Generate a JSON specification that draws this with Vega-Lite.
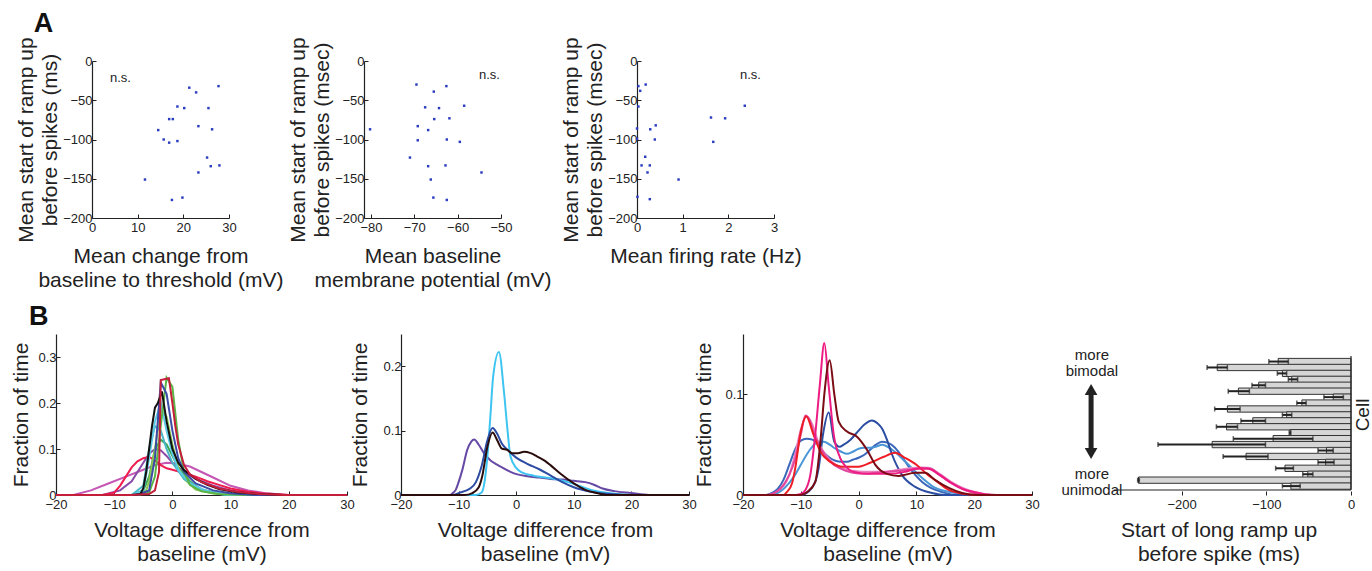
{
"$schema":"https://vega.github.io/schema/vega-lite/v6.json",
"background":"white",
"padding":{"left":10,"top":9,"right":0,"bottom":5},
"spacing":13,
"config":{
 "font":"Liberation Sans",
 "view":{"stroke":null},
 "axis":{"grid":false,"domainColor":"#222","domainWidth":1.2,"tickColor":"#222","tickSize":-4,"labelFontSize":13,"labelColor":"#222","labelPadding":4,"labelOverlap":false,"labelFlush":false,"titleFontSize":21,"titleFontWeight":"normal","titleColor":"#222","titleLineHeight":24},
 "axisX":{"labelPadding":7},
 "title":{"fontSize":27,"fontWeight":"bold","anchor":"start","color":"#111"}
},
"datasets":{
"s1":[{"x":21.3,"y":-34},{"x":22.8,"y":-40},{"x":27.7,"y":-32},{"x":18.7,"y":-58},{"x":20.2,"y":-60},{"x":25.5,"y":-60},{"x":16.9,"y":-74},{"x":17.7,"y":-74},{"x":23.3,"y":-83},{"x":14.5,"y":-88},{"x":26.3,"y":-87},{"x":15.7,"y":-100},{"x":16.9,"y":-104},{"x":18.7,"y":-102},{"x":25.2,"y":-123},{"x":26.0,"y":-134},{"x":27.9,"y":-133},{"x":23.3,"y":-142},{"x":11.6,"y":-151},{"x":17.5,"y":-177},{"x":19.8,"y":-174}],
"s2":[{"x":-69.5,"y":-30},{"x":-62.6,"y":-32},{"x":-65.5,"y":-39},{"x":-67.5,"y":-59},{"x":-64.3,"y":-60},{"x":-58.5,"y":-57},{"x":-65.4,"y":-74},{"x":-61.9,"y":-73},{"x":-80.2,"y":-87},{"x":-69.2,"y":-83},{"x":-66.8,"y":-88},{"x":-69.2,"y":-101},{"x":-62.5,"y":-100},{"x":-59.5,"y":-103},{"x":-71.0,"y":-123},{"x":-66.8,"y":-134},{"x":-62.8,"y":-133},{"x":-54.5,"y":-142},{"x":-66.2,"y":-151},{"x":-65.6,"y":-174},{"x":-62.5,"y":-177}],
"s3":[{"x":0.03,"y":-32},{"x":0.19,"y":-30},{"x":0.07,"y":-38},{"x":0.03,"y":-58},{"x":0.0,"y":-86},{"x":0.29,"y":-87},{"x":0.41,"y":-82},{"x":0.0,"y":-99},{"x":0.39,"y":-100},{"x":1.62,"y":-72},{"x":1.93,"y":-73},{"x":2.36,"y":-57},{"x":1.67,"y":-103},{"x":0.18,"y":-122},{"x":0.1,"y":-133},{"x":0.28,"y":-133},{"x":0.23,"y":-142},{"x":0.91,"y":-151},{"x":0.01,"y":-173},{"x":0.28,"y":-176}],
"b1":[
{"c":"mg","x":-20,"y":0},{"c":"mg","x":-17,"y":0},{"c":"mg","x":-14,"y":0.01},{"c":"mg","x":-11,"y":0.025},{"c":"mg","x":-8,"y":0.04},{"c":"mg","x":-5,"y":0.055},{"c":"mg","x":-3,"y":0.065},{"c":"mg","x":-1,"y":0.07},{"c":"mg","x":1,"y":0.068},{"c":"mg","x":3,"y":0.062},{"c":"mg","x":5,"y":0.05},{"c":"mg","x":7,"y":0.038},{"c":"mg","x":10,"y":0.02},{"c":"mg","x":13,"y":0.01},{"c":"mg","x":16,"y":0.004},{"c":"mg","x":20,"y":0},{"c":"mg","x":30,"y":0},
{"c":"pu","x":-20,"y":0},{"c":"pu","x":-12,"y":0},{"c":"pu","x":-9,"y":0.01},{"c":"pu","x":-7,"y":0.03},{"c":"pu","x":-5,"y":0.07},{"c":"pu","x":-4,"y":0.09},{"c":"pu","x":-3,"y":0.1},{"c":"pu","x":-2,"y":0.097},{"c":"pu","x":-1,"y":0.085},{"c":"pu","x":0,"y":0.07},{"c":"pu","x":2,"y":0.05},{"c":"pu","x":4,"y":0.035},{"c":"pu","x":7,"y":0.02},{"c":"pu","x":10,"y":0.01},{"c":"pu","x":14,"y":0.003},{"c":"pu","x":18,"y":0},{"c":"pu","x":30,"y":0},
{"c":"rd","x":-20,"y":0},{"c":"rd","x":-12,"y":0},{"c":"rd","x":-10,"y":0.005},{"c":"rd","x":-9,"y":0.02},{"c":"rd","x":-8,"y":0.04},{"c":"rd","x":-7,"y":0.06},{"c":"rd","x":-6,"y":0.073},{"c":"rd","x":-5,"y":0.08},{"c":"rd","x":-4,"y":0.083},{"c":"rd","x":-3,"y":0.075},{"c":"rd","x":-2,"y":0.065},{"c":"rd","x":-1,"y":0.058},{"c":"rd","x":0,"y":0.055},{"c":"rd","x":2,"y":0.048},{"c":"rd","x":4,"y":0.04},{"c":"rd","x":6,"y":0.03},{"c":"rd","x":8,"y":0.022},{"c":"rd","x":10,"y":0.014},{"c":"rd","x":13,"y":0.007},{"c":"rd","x":16,"y":0.003},{"c":"rd","x":20,"y":0},{"c":"rd","x":30,"y":0},
{"c":"g3","x":-20,"y":0},{"c":"g3","x":-7,"y":0},{"c":"g3","x":-5,"y":0.01},{"c":"g3","x":-4,"y":0.04},{"c":"g3","x":-3,"y":0.1},{"c":"g3","x":-2,"y":0.12},{"c":"g3","x":-1,"y":0.11},{"c":"g3","x":0,"y":0.085},{"c":"g3","x":1,"y":0.06},{"c":"g3","x":3,"y":0.03},{"c":"g3","x":5,"y":0.012},{"c":"g3","x":8,"y":0.003},{"c":"g3","x":11,"y":0},{"c":"g3","x":30,"y":0},
{"c":"g2","x":-20,"y":0},{"c":"g2","x":-6,"y":0},{"c":"g2","x":-4.5,"y":0.01},{"c":"g2","x":-4,"y":0.03},{"c":"g2","x":-3,"y":0.1},{"c":"g2","x":-2,"y":0.185},{"c":"g2","x":-1,"y":0.17},{"c":"g2","x":0,"y":0.11},{"c":"g2","x":1,"y":0.06},{"c":"g2","x":2,"y":0.035},{"c":"g2","x":4,"y":0.012},{"c":"g2","x":7,"y":0.003},{"c":"g2","x":10,"y":0},{"c":"g2","x":30,"y":0},
{"c":"tl","x":-20,"y":0},{"c":"tl","x":-7,"y":0},{"c":"tl","x":-5,"y":0.02},{"c":"tl","x":-4,"y":0.1},{"c":"tl","x":-3,"y":0.15},{"c":"tl","x":-2,"y":0.14},{"c":"tl","x":-1,"y":0.1},{"c":"tl","x":0,"y":0.07},{"c":"tl","x":2,"y":0.035},{"c":"tl","x":5,"y":0.012},{"c":"tl","x":9,"y":0},{"c":"tl","x":30,"y":0},
{"c":"cy","x":-20,"y":0},{"c":"cy","x":-7,"y":0},{"c":"cy","x":-5,"y":0.01},{"c":"cy","x":-4,"y":0.08},{"c":"cy","x":-3,"y":0.16},{"c":"cy","x":-2,"y":0.2},{"c":"cy","x":-1,"y":0.14},{"c":"cy","x":0,"y":0.09},{"c":"cy","x":1,"y":0.055},{"c":"cy","x":3,"y":0.025},{"c":"cy","x":6,"y":0.008},{"c":"cy","x":10,"y":0},{"c":"cy","x":30,"y":0},
{"c":"g1","x":-20,"y":0},{"c":"g1","x":-6,"y":0},{"c":"g1","x":-4,"y":0.005},{"c":"g1","x":-3,"y":0.04},{"c":"g1","x":-2,"y":0.15},{"c":"g1","x":-1,"y":0.255},{"c":"g1","x":0,"y":0.235},{"c":"g1","x":1,"y":0.12},{"c":"g1","x":2,"y":0.05},{"c":"g1","x":3,"y":0.022},{"c":"g1","x":5,"y":0.008},{"c":"g1","x":8,"y":0.002},{"c":"g1","x":12,"y":0},{"c":"g1","x":30,"y":0},
{"c":"bl","x":-20,"y":0},{"c":"bl","x":-6,"y":0},{"c":"bl","x":-4,"y":0.01},{"c":"bl","x":-3,"y":0.08},{"c":"bl","x":-2,"y":0.245},{"c":"bl","x":-1,"y":0.22},{"c":"bl","x":0,"y":0.14},{"c":"bl","x":1,"y":0.08},{"c":"bl","x":2,"y":0.05},{"c":"bl","x":4,"y":0.025},{"c":"bl","x":7,"y":0.01},{"c":"bl","x":10,"y":0.004},{"c":"bl","x":14,"y":0},{"c":"bl","x":30,"y":0},
{"c":"bk","x":-20,"y":0},{"c":"bk","x":-7,"y":0},{"c":"bk","x":-5.5,"y":0.002},{"c":"bk","x":-5,"y":0.015},{"c":"bk","x":-4.5,"y":0.05},{"c":"bk","x":-4,"y":0.1},{"c":"bk","x":-3.5,"y":0.15},{"c":"bk","x":-3,"y":0.19},{"c":"bk","x":-2.5,"y":0.2},{"c":"bk","x":-1.8,"y":0.225},{"c":"bk","x":-1,"y":0.16},{"c":"bk","x":0,"y":0.1},{"c":"bk","x":1,"y":0.07},{"c":"bk","x":2,"y":0.054},{"c":"bk","x":3,"y":0.045},{"c":"bk","x":4,"y":0.035},{"c":"bk","x":6,"y":0.022},{"c":"bk","x":8,"y":0.013},{"c":"bk","x":11,"y":0.006},{"c":"bk","x":15,"y":0.002},{"c":"bk","x":19,"y":0},{"c":"bk","x":30,"y":0},
{"c":"dr","x":-20,"y":0},{"c":"dr","x":-7,"y":0},{"c":"dr","x":-4,"y":0.002},{"c":"dr","x":-3,"y":0.01},{"c":"dr","x":-2.3,"y":0.05},{"c":"dr","x":-2,"y":0.25},{"c":"dr","x":-0.6,"y":0.254},{"c":"dr","x":0,"y":0.2},{"c":"dr","x":0.5,"y":0.15},{"c":"dr","x":1,"y":0.11},{"c":"dr","x":2,"y":0.065},{"c":"dr","x":3,"y":0.045},{"c":"dr","x":5,"y":0.028},{"c":"dr","x":8,"y":0.014},{"c":"dr","x":11,"y":0.007},{"c":"dr","x":15,"y":0.002},{"c":"dr","x":19,"y":0},{"c":"dr","x":30,"y":0}
],
"b2":[
{"c":"pu","x":-20,"y":0},{"c":"pu","x":-11.5,"y":0},{"c":"pu","x":-11,"y":0.003},{"c":"pu","x":-10.5,"y":0.008},{"c":"pu","x":-10,"y":0.02},{"c":"pu","x":-9.35,"y":0.039},{"c":"pu","x":-8.5,"y":0.07},{"c":"pu","x":-7.8,"y":0.083},{"c":"pu","x":-7.3,"y":0.086},{"c":"pu","x":-6.5,"y":0.078},{"c":"pu","x":-5.6,"y":0.065},{"c":"pu","x":-4.5,"y":0.054},{"c":"pu","x":-3.5,"y":0.048},{"c":"pu","x":-2.7,"y":0.044},{"c":"pu","x":-1,"y":0.036},{"c":"pu","x":0.2,"y":0.032},{"c":"pu","x":2,"y":0.029},{"c":"pu","x":4,"y":0.027},{"c":"pu","x":6,"y":0.025},{"c":"pu","x":8,"y":0.024},{"c":"pu","x":10,"y":0.022},{"c":"pu","x":12,"y":0.02},{"c":"pu","x":13.5,"y":0.016},{"c":"pu","x":15,"y":0.01},{"c":"pu","x":17,"y":0.006},{"c":"pu","x":20,"y":0.003},{"c":"pu","x":23,"y":0},{"c":"pu","x":30,"y":0},
{"c":"cy","x":-20,"y":0},{"c":"cy","x":-7,"y":0},{"c":"cy","x":-6,"y":0.004},{"c":"cy","x":-5.6,"y":0.015},{"c":"cy","x":-5,"y":0.06},{"c":"cy","x":-4.5,"y":0.12},{"c":"cy","x":-4,"y":0.184},{"c":"cy","x":-3,"y":0.222},{"c":"cy","x":-2.1,"y":0.158},{"c":"cy","x":-1.5,"y":0.1},{"c":"cy","x":-1,"y":0.06},{"c":"cy","x":0,"y":0.042},{"c":"cy","x":1,"y":0.035},{"c":"cy","x":3,"y":0.03},{"c":"cy","x":6,"y":0.026},{"c":"cy","x":9,"y":0.02},{"c":"cy","x":11,"y":0.014},{"c":"cy","x":13,"y":0.008},{"c":"cy","x":16,"y":0.003},{"c":"cy","x":20,"y":0},{"c":"cy","x":30,"y":0},
{"c":"bl","x":-20,"y":0},{"c":"bl","x":-11,"y":0},{"c":"bl","x":-10,"y":0.003},{"c":"bl","x":-8,"y":0.01},{"c":"bl","x":-7,"y":0.02},{"c":"bl","x":-6,"y":0.045},{"c":"bl","x":-5,"y":0.085},{"c":"bl","x":-4.1,"y":0.104},{"c":"bl","x":-3.3,"y":0.095},{"c":"bl","x":-2.5,"y":0.08},{"c":"bl","x":-1.5,"y":0.07},{"c":"bl","x":0,"y":0.058},{"c":"bl","x":2,"y":0.048},{"c":"bl","x":4,"y":0.04},{"c":"bl","x":6,"y":0.03},{"c":"bl","x":8,"y":0.02},{"c":"bl","x":10,"y":0.012},{"c":"bl","x":13,"y":0.005},{"c":"bl","x":17,"y":0.001},{"c":"bl","x":20,"y":0},{"c":"bl","x":30,"y":0},
{"c":"bk","x":-20,"y":0},{"c":"bk","x":-9,"y":0},{"c":"bk","x":-7.6,"y":0.003},{"c":"bk","x":-6.5,"y":0.012},{"c":"bk","x":-5.9,"y":0.029},{"c":"bk","x":-5,"y":0.075},{"c":"bk","x":-4.1,"y":0.097},{"c":"bk","x":-3.3,"y":0.085},{"c":"bk","x":-2.5,"y":0.072},{"c":"bk","x":-1.55,"y":0.07},{"c":"bk","x":-0.7,"y":0.065},{"c":"bk","x":0.3,"y":0.065},{"c":"bk","x":1.35,"y":0.067},{"c":"bk","x":2.5,"y":0.065},{"c":"bk","x":3.6,"y":0.06},{"c":"bk","x":5,"y":0.053},{"c":"bk","x":6,"y":0.046},{"c":"bk","x":7.7,"y":0.033},{"c":"bk","x":10,"y":0.018},{"c":"bk","x":12,"y":0.008},{"c":"bk","x":14,"y":0.003},{"c":"bk","x":16,"y":0},{"c":"bk","x":30,"y":0}
],
"b3":[
{"c":"mb","x":-20,"y":0},{"c":"mb","x":-16,"y":0},{"c":"mb","x":-15,"y":0.002},{"c":"mb","x":-14,"y":0.006},{"c":"mb","x":-13,"y":0.015},{"c":"mb","x":-12,"y":0.03},{"c":"mb","x":-11,"y":0.045},{"c":"mb","x":-10,"y":0.054},{"c":"mb","x":-9,"y":0.056},{"c":"mb","x":-8,"y":0.055},{"c":"mb","x":-7,"y":0.05},{"c":"mb","x":-6,"y":0.042},{"c":"mb","x":-5,"y":0.037},{"c":"mb","x":-4,"y":0.034},{"c":"mb","x":-3,"y":0.033},{"c":"mb","x":-2,"y":0.033},{"c":"mb","x":-1,"y":0.035},{"c":"mb","x":0,"y":0.037},{"c":"mb","x":1,"y":0.04},{"c":"mb","x":2,"y":0.045},{"c":"mb","x":3,"y":0.05},{"c":"mb","x":4,"y":0.053},{"c":"mb","x":5,"y":0.052},{"c":"mb","x":6.3,"y":0.047},{"c":"mb","x":7.5,"y":0.038},{"c":"mb","x":8.7,"y":0.028},{"c":"mb","x":11,"y":0.013},{"c":"mb","x":12.5,"y":0.007},{"c":"mb","x":14.4,"y":0.003},{"c":"mb","x":17,"y":0},{"c":"mb","x":30,"y":0},
{"c":"lb","x":-20,"y":0},{"c":"lb","x":-15,"y":0},{"c":"lb","x":-14,"y":0.002},{"c":"lb","x":-13,"y":0.006},{"c":"lb","x":-12,"y":0.012},{"c":"lb","x":-11,"y":0.02},{"c":"lb","x":-10,"y":0.03},{"c":"lb","x":-9,"y":0.04},{"c":"lb","x":-8,"y":0.048},{"c":"lb","x":-7,"y":0.053},{"c":"lb","x":-6,"y":0.053},{"c":"lb","x":-5,"y":0.05},{"c":"lb","x":-4,"y":0.046},{"c":"lb","x":-3,"y":0.043},{"c":"lb","x":-2,"y":0.041},{"c":"lb","x":-1,"y":0.043},{"c":"lb","x":0,"y":0.046},{"c":"lb","x":1,"y":0.047},{"c":"lb","x":2,"y":0.047},{"c":"lb","x":3,"y":0.048},{"c":"lb","x":4.05,"y":0.05},{"c":"lb","x":5.8,"y":0.045},{"c":"lb","x":8.1,"y":0.033},{"c":"lb","x":11,"y":0.017},{"c":"lb","x":13.3,"y":0.007},{"c":"lb","x":16.8,"y":0.002},{"c":"lb","x":19,"y":0},{"c":"lb","x":30,"y":0},
{"c":"db","x":-20,"y":0},{"c":"db","x":-10,"y":0},{"c":"db","x":-8.06,"y":0.007},{"c":"db","x":-6.9,"y":0.027},{"c":"db","x":-6.16,"y":0.06},{"c":"db","x":-5.17,"y":0.082},{"c":"db","x":-4.2,"y":0.053},{"c":"db","x":-3.3,"y":0.048},{"c":"db","x":-2.58,"y":0.05},{"c":"db","x":-1.4,"y":0.055},{"c":"db","x":0,"y":0.064},{"c":"db","x":1,"y":0.07},{"c":"db","x":2.3,"y":0.074},{"c":"db","x":3.3,"y":0.071},{"c":"db","x":4.05,"y":0.066},{"c":"db","x":4.9,"y":0.055},{"c":"db","x":5.8,"y":0.04},{"c":"db","x":7.5,"y":0.02},{"c":"db","x":9.8,"y":0.008},{"c":"db","x":12.7,"y":0.002},{"c":"db","x":15,"y":0},{"c":"db","x":30,"y":0},
{"c":"p2","x":-20,"y":0},{"c":"p2","x":-16,"y":0},{"c":"p2","x":-14,"y":0.004},{"c":"p2","x":-12,"y":0.02},{"c":"p2","x":-11,"y":0.04},{"c":"p2","x":-10,"y":0.065},{"c":"p2","x":-9,"y":0.078},{"c":"p2","x":-8,"y":0.07},{"c":"p2","x":-7,"y":0.053},{"c":"p2","x":-5,"y":0.035},{"c":"p2","x":-3,"y":0.027},{"c":"p2","x":-1,"y":0.024},{"c":"p2","x":1,"y":0.023},{"c":"p2","x":4,"y":0.023},{"c":"p2","x":7,"y":0.025},{"c":"p2","x":10,"y":0.027},{"c":"p2","x":12,"y":0.027},{"c":"p2","x":14,"y":0.021},{"c":"p2","x":16,"y":0.013},{"c":"p2","x":18,"y":0.007},{"c":"p2","x":20,"y":0.003},{"c":"p2","x":24,"y":0},{"c":"p2","x":30,"y":0},
{"c":"mg","x":-20,"y":0},{"c":"mg","x":-16,"y":0},{"c":"mg","x":-15,"y":0.001},{"c":"mg","x":-14,"y":0.004},{"c":"mg","x":-13,"y":0.01},{"c":"mg","x":-12,"y":0.02},{"c":"mg","x":-11,"y":0.035},{"c":"mg","x":-10,"y":0.06},{"c":"mg","x":-9.2,"y":0.079},{"c":"mg","x":-8.5,"y":0.075},{"c":"mg","x":-7.8,"y":0.062},{"c":"mg","x":-6.6,"y":0.047},{"c":"mg","x":-4.9,"y":0.033},{"c":"mg","x":-3,"y":0.026},{"c":"mg","x":-1,"y":0.022},{"c":"mg","x":1,"y":0.021},{"c":"mg","x":3,"y":0.022},{"c":"mg","x":5,"y":0.023},{"c":"mg","x":7,"y":0.024},{"c":"mg","x":9,"y":0.025},{"c":"mg","x":11,"y":0.027},{"c":"mg","x":12.5,"y":0.026},{"c":"mg","x":14,"y":0.02},{"c":"mg","x":16,"y":0.012},{"c":"mg","x":18,"y":0.006},{"c":"mg","x":20,"y":0.002},{"c":"mg","x":23,"y":0},{"c":"mg","x":30,"y":0},
{"c":"rd","x":-20,"y":0},{"c":"rd","x":-13,"y":0},{"c":"rd","x":-12.4,"y":0.003},{"c":"rd","x":-11.5,"y":0.012},{"c":"rd","x":-10.95,"y":0.027},{"c":"rd","x":-10.1,"y":0.06},{"c":"rd","x":-9.05,"y":0.078},{"c":"rd","x":-7.8,"y":0.06},{"c":"rd","x":-6.6,"y":0.043},{"c":"rd","x":-4.9,"y":0.033},{"c":"rd","x":-2.6,"y":0.028},{"c":"rd","x":-0.28,"y":0.028},{"c":"rd","x":2,"y":0.032},{"c":"rd","x":4.35,"y":0.038},{"c":"rd","x":6.3,"y":0.042},{"c":"rd","x":8,"y":0.037},{"c":"rd","x":10,"y":0.03},{"c":"rd","x":12,"y":0.02},{"c":"rd","x":13.2,"y":0.015},{"c":"rd","x":15.6,"y":0.005},{"c":"rd","x":18.4,"y":0.001},{"c":"rd","x":21,"y":0},{"c":"rd","x":30,"y":0},
{"c":"pk","x":-20,"y":0},{"c":"pk","x":-11,"y":0},{"c":"pk","x":-10,"y":0.001},{"c":"pk","x":-9.2,"y":0.005},{"c":"pk","x":-8.35,"y":0.02},{"c":"pk","x":-7.5,"y":0.06},{"c":"pk","x":-6.7,"y":0.11},{"c":"pk","x":-5.93,"y":0.151},{"c":"pk","x":-5.2,"y":0.11},{"c":"pk","x":-4.3,"y":0.06},{"c":"pk","x":-3.2,"y":0.037},{"c":"pk","x":-2,"y":0.027},{"c":"pk","x":-0.85,"y":0.023},{"c":"pk","x":2,"y":0.021},{"c":"pk","x":5,"y":0.021},{"c":"pk","x":8,"y":0.023},{"c":"pk","x":10,"y":0.026},{"c":"pk","x":12,"y":0.026},{"c":"pk","x":14,"y":0.02},{"c":"pk","x":16,"y":0.012},{"c":"pk","x":18,"y":0.006},{"c":"pk","x":20,"y":0.003},{"c":"pk","x":23,"y":0},{"c":"pk","x":30,"y":0},
{"c":"dk","x":-20,"y":0},{"c":"dk","x":-10,"y":0},{"c":"dk","x":-8.9,"y":0.003},{"c":"dk","x":-7.5,"y":0.013},{"c":"dk","x":-6.5,"y":0.06},{"c":"dk","x":-5.93,"y":0.1},{"c":"dk","x":-5,"y":0.134},{"c":"dk","x":-4.2,"y":0.1},{"c":"dk","x":-3.45,"y":0.073},{"c":"dk","x":-2,"y":0.063},{"c":"dk","x":-0.28,"y":0.058},{"c":"dk","x":1.45,"y":0.045},{"c":"dk","x":2.9,"y":0.03},{"c":"dk","x":4.9,"y":0.021},{"c":"dk","x":6.9,"y":0.019},{"c":"dk","x":9.8,"y":0.022},{"c":"dk","x":11.5,"y":0.022},{"c":"dk","x":13.2,"y":0.015},{"c":"dk","x":15.6,"y":0.007},{"c":"dk","x":17.9,"y":0.002},{"c":"dk","x":20.5,"y":0},{"c":"dk","x":30,"y":0}
],
"bars":[
{"cell":1,"v":-86,"lo":-97,"hi":-74},{"cell":2,"v":-158,"lo":-170,"hi":-146},{"cell":3,"v":-81,"lo":-87,"hi":-76},{"cell":4,"v":-70,"lo":-74,"hi":-63},{"cell":5,"v":-109,"lo":-117,"hi":-101},{"cell":6,"v":-133,"lo":-145,"hi":-120},{"cell":7,"v":-21,"lo":-32,"hi":-9},{"cell":8,"v":-58,"lo":-64,"hi":-53},{"cell":9,"v":-146,"lo":-161,"hi":-131},{"cell":10,"v":-76,"lo":-81,"hi":-70},{"cell":11,"v":-116,"lo":-130,"hi":-101},{"cell":12,"v":-147,"lo":-159,"hi":-134},{"cell":13,"v":-72,"lo":-73,"hi":-71},{"cell":14,"v":-92,"lo":-139,"hi":-45},{"cell":15,"v":-164,"lo":-228,"hi":-101},{"cell":16,"v":-29,"lo":-39,"hi":-21},{"cell":17,"v":-124,"lo":-151,"hi":-98},{"cell":18,"v":-30,"lo":-39,"hi":-20},{"cell":19,"v":-78,"lo":-89,"hi":-68},{"cell":20,"v":-51,"lo":-57,"hi":-45},{"cell":21,"v":-251,"lo":-252,"hi":-250},{"cell":22,"v":-71,"lo":-81,"hi":-60}
]
},
"vconcat":[
{"title":{"text":"A","dx":18,"offset":-1},
 "bounds":"flush","spacing":0,
 "hconcat":[
  {"width":36,"height":157,"data":{"values":[]},"mark":"point"},
  {"width":137,"height":157,"data":{"name":"s1"},
   "title":{"text":"n.s.","fontSize":13,"fontWeight":"normal","color":"#222","anchor":"start","frame":"group","dx":18,"offset":-48},
   "mark":{"type":"point","shape":"square","filled":true,"size":6,"color":"#2a3cc0","opacity":1},
   "encoding":{"x":{"field":"x","type":"quantitative","scale":{"domain":[0,30],"nice":false},"axis":{"values":[0,10,20,30],"title":["Mean change from","baseline to threshold (mV)"],"titlePadding":11}},
     "y":{"field":"y","type":"quantitative","scale":{"domain":[-200,0],"nice":false},"axis":{"values":[0,-50,-100,-150,-200],"labelOverlap":false,"title":["Mean start of ramp up","before spikes (ms)"],"titlePadding":2}}}},
  {"width":135,"height":157,"data":{"values":[]},"mark":"point"},
  {"width":137,"height":157,"data":{"name":"s2"},
   "title":{"text":"n.s.","fontSize":13,"fontWeight":"normal","color":"#222","anchor":"end","frame":"group","dx":-1,"offset":-45},
   "mark":{"type":"point","shape":"square","filled":true,"size":6,"color":"#2a3cc0","opacity":1},
   "encoding":{"x":{"field":"x","type":"quantitative","scale":{"domain":[-81.6,-50],"nice":false,"zero":false},"axis":{"values":[-80,-70,-60,-50],"title":["Mean baseline","membrane potential (mV)"],"titlePadding":11}},
     "y":{"field":"y","type":"quantitative","scale":{"domain":[-200,0],"nice":false},"axis":{"values":[0,-50,-100,-150,-200],"labelOverlap":false,"title":["Mean start of ramp up","before spikes (msec)"],"titlePadding":2}}}},
  {"width":136,"height":157,"data":{"values":[]},"mark":"point"},
  {"width":137,"height":157,"data":{"name":"s3"},
   "title":{"text":"n.s.","fontSize":13,"fontWeight":"normal","color":"#222","anchor":"end","frame":"group","dx":-13,"offset":-45},
   "mark":{"type":"point","shape":"square","filled":true,"size":6,"color":"#2a3cc0","opacity":1},
   "encoding":{"x":{"field":"x","type":"quantitative","scale":{"domain":[0,3],"nice":false},"axis":{"values":[0,1,2,3],"title":"Mean firing rate (Hz)","titlePadding":11}},
     "y":{"field":"y","type":"quantitative","scale":{"domain":[-200,0],"nice":false},"axis":{"values":[0,-50,-100,-150,-200],"labelOverlap":false,"title":["Mean start of ramp up","before spikes (msec)"],"titlePadding":2}}}}
 ]},
{"title":{"text":"B","dx":18,"offset":3},
 "bounds":"flush","spacing":54,
 "resolve":{"scale":{"color":"independent"}},
 "hconcat":[
  {"width":291,"height":161,"data":{"name":"b1"},"mark":{"type":"line","strokeWidth":2},
   "encoding":{"x":{"field":"x","type":"quantitative","scale":{"domain":[-20,30],"nice":false},"axis":{"values":[-20,-10,0,10,20,30],"title":["Voltage difference from","baseline (mV)"],"titlePadding":8}},
    "y":{"field":"y","type":"quantitative","scale":{"domain":[0,0.35],"nice":false},"axis":{"values":[0,0.1,0.2,0.3],"format":".1~f","title":"Fraction of time","titlePadding":6}},
    "color":{"field":"c","type":"nominal","legend":null,"sort":null,"scale":{"domain":["mg","pu","rd","g3","g2","tl","cy","g1","bl","bk","dr"],"range":["#c456b4","#8a4aa8","#ee1c4e","#3aa655","#8cc850","#4ab6c6","#5ccbe6","#5ab446","#3b4ba6","#111111","#c41e3a"]}}}},
  {"width":288,"height":161,"data":{"name":"b2"},"mark":{"type":"line","strokeWidth":2,"interpolate":"monotone"},
   "encoding":{"x":{"field":"x","type":"quantitative","scale":{"domain":[-20,30],"nice":false},"axis":{"values":[-20,-10,0,10,20,30],"title":["Voltage difference from","baseline (mV)"],"titlePadding":8}},
    "y":{"field":"y","type":"quantitative","scale":{"domain":[0,0.25],"nice":false},"axis":{"values":[0,0.1,0.2],"format":".1~f","title":"Fraction of time","titlePadding":12}},
    "color":{"field":"c","type":"nominal","legend":null,"sort":null,"scale":{"domain":["pu","cy","bl","bk"],"range":["#6648a5","#3ec4f0","#2c4ca3","#2a0c0c"]}}}},
  {"width":289,"height":161,"data":{"name":"b3"},"mark":{"type":"line","strokeWidth":2,"interpolate":"monotone"},
   "encoding":{"x":{"field":"x","type":"quantitative","scale":{"domain":[-20,30],"nice":false},"axis":{"values":[-20,-10,0,10,20,30],"title":["Voltage difference from","baseline (mV)"],"titlePadding":8}},
    "y":{"field":"y","type":"quantitative","scale":{"domain":[0,0.16],"nice":false},"axis":{"values":[0,0.1],"format":".1~f","title":"Fraction of time","titlePadding":10}},
    "color":{"field":"c","type":"nominal","legend":null,"sort":null,"scale":{"domain":["mb","lb","db","p2","mg","rd","pk","dk"],"range":["#3b67bb","#4a95d6","#2b4ea3","#ea7fc0","#e2479e","#ee1c24","#ec1c82","#7a0c14"]}}}},
  {"width":265,"height":161,"layer":[
   {"data":{"name":"bars"},"mark":{"type":"bar","orient":"horizontal","height":6.3,"fill":"#d6d6d6","stroke":"#333","strokeWidth":1},
    "encoding":{"x":{"field":"v","type":"quantitative","scale":{"domain":[-313,0],"nice":false},"axis":{"values":[-200,-100,0],"domain":false,"title":["Start of long ramp up","before spike (ms)"],"titlePadding":8}},
     "y":{"field":"cell","type":"quantitative","scale":{"domain":[-2.8,22.66],"reverse":true,"nice":false,"zero":false},"axis":{"orient":"right","title":"Cell","domain":false,"labels":false,"ticks":false,"titleAngle":270,"titlePadding":2,"titleFontSize":19,"titleBaseline":"top"}}}},
   {"data":{"name":"bars"},"mark":{"type":"rule","strokeWidth":2,"color":"#222"},"encoding":{"x":{"field":"lo","type":"quantitative"},"x2":{"field":"hi"},"y":{"field":"cell","type":"quantitative"}}},
   {"data":{"name":"bars"},"mark":{"type":"tick","orient":"vertical","size":5,"thickness":1.5,"color":"#222"},"encoding":{"x":{"field":"lo","type":"quantitative"},"y":{"field":"cell","type":"quantitative"}}},
   {"data":{"name":"bars"},"mark":{"type":"tick","orient":"vertical","size":5,"thickness":1.5,"color":"#222"},"encoding":{"x":{"field":"hi","type":"quantitative"},"y":{"field":"cell","type":"quantitative"}}},
   {"data":{"values":[{}]},"mark":{"type":"rule","color":"#222","strokeWidth":1.2},"encoding":{"x":{"datum":-280},"x2":{"datum":0},"y":{"datum":22.66}}},
   {"data":{"values":[{}]},"mark":{"type":"rule","color":"#222","strokeWidth":1.2},"encoding":{"x":{"datum":0},"y":{"datum":0.05},"y2":{"datum":22.66}}},
   {"data":{"values":[{}]},"mark":{"type":"rule","color":"#222","strokeWidth":5},"encoding":{"x":{"datum":-307},"y":{"datum":5.8},"y2":{"datum":16.4}}},
   {"data":{"values":[{}]},"mark":{"type":"point","shape":"triangle-up","filled":true,"size":160,"color":"#222","opacity":1},"encoding":{"x":{"datum":-307},"y":{"datum":5.7}}},
   {"data":{"values":[{}]},"mark":{"type":"point","shape":"triangle-down","filled":true,"size":160,"color":"#222","opacity":1},"encoding":{"x":{"datum":-307},"y":{"datum":16.5}}},
   {"data":{"values":[{}]},"mark":{"type":"text","text":"more\nbimodal","lineBreak":"\n","fontSize":15,"lineHeight":16,"color":"#222"},"encoding":{"x":{"datum":-306},"y":{"datum":-0.1}}},
   {"data":{"values":[{}]},"mark":{"type":"text","text":"more\nunimodal","lineBreak":"\n","fontSize":15,"lineHeight":16,"color":"#222"},"encoding":{"x":{"datum":-306},"y":{"datum":19.9}}}
  ]}
 ]}
]
}
